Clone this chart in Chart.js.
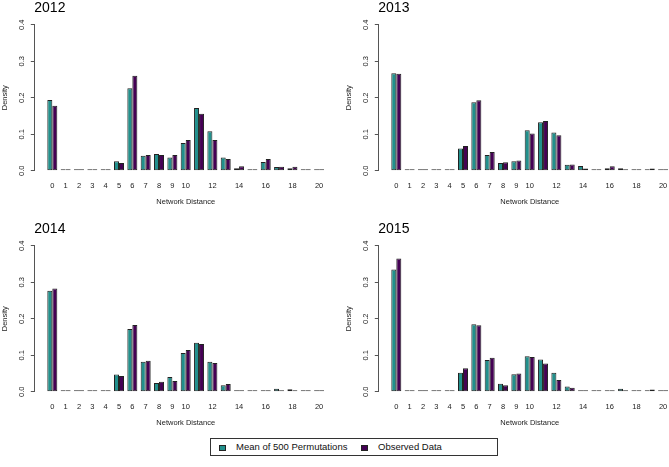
<!DOCTYPE html>
<html>
<head>
<meta charset="utf-8">
<script src="https://cdn.jsdelivr.net/npm/chart.js@4.4.1/dist/chart.umd.min.js"></script>
<style>
  html, body { margin: 0; padding: 0; background: #fff; overflow: hidden; }
  #wrap { position: relative; width: 669px; height: 467px; font-family: "Liberation Sans", Arial, sans-serif; }
  #wrap canvas { position: absolute; }
  .legend { position: absolute; left: 210px; top: 438px; width: 286px; height: 16px; border: 1px solid #333; font-size: 9.5px; color: #111; }
  .legend span { position: absolute; top: 2px; line-height: 12px; }
  .legend i { position: absolute; top: 6px; width: 5px; height: 4px; border: 1px solid #222; }
</style>
</head>
<body>
<div id="wrap">
  <canvas id="p2012" width="340" height="215" style="left:0;top:0"></canvas>
  <canvas id="p2013" width="340" height="215" style="left:344px;top:0"></canvas>
  <canvas id="p2014" width="340" height="215" style="left:0;top:221px"></canvas>
  <canvas id="p2015" width="340" height="215" style="left:344px;top:221px"></canvas>
  <div class="legend">
    <i style="left:8px;background:#21908C"></i><span style="left:25px">Mean of 500 Permutations</span>
    <i style="left:150px;background:#440154"></i><span style="left:167px">Observed Data</span>
  </div>
</div>
<script>
var distances = [0, 1, 2, 3, 4, 5, 6, 7, 8, 9, 10, 11, 12, 13, 14, 15, 16, 17, 18, 19, 20];
var yTicks = [0, 0.1, 0.2, 0.3, 0.4];

var perm2012 = [0.194, 0, 0, 0, 0, 0.026, 0.226, 0.041, 0.046, 0.036, 0.076, 0.172, 0.108, 0.036, 0.007, 0.001, 0.024, 0.010, 0.007, 0, 0.001];
var obs2012  = [0.178, 0, 0, 0, 0, 0.021, 0.260, 0.043, 0.043, 0.043, 0.084, 0.156, 0.084, 0.032, 0.012, 0, 0.032, 0.011, 0.011, 0, 0.003];

var perm2013 = [0.267, 0, 0, 0, 0, 0.061, 0.188, 0.043, 0.021, 0.026, 0.111, 0.133, 0.105, 0.016, 0.013, 0.003, 0.007, 0.007, 0.004, 0.004, 0.002];
var obs2013  = [0.266, 0, 0, 0, 0, 0.068, 0.193, 0.051, 0.023, 0.028, 0.102, 0.136, 0.097, 0.017, 0.006, 0.001, 0.012, 0.001, 0.001, 0.006, 0.001];

var perm2014 = [0.277, 0, 0, 0, 0, 0.047, 0.172, 0.082, 0.024, 0.040, 0.106, 0.134, 0.082, 0.018, 0.004, 0.001, 0.004, 0.008, 0.007, 0.002, 0.001];
var obs2014  = [0.283, 0, 0, 0, 0, 0.043, 0.183, 0.085, 0.027, 0.029, 0.114, 0.131, 0.079, 0.021, 0.004, 0.001, 0.001, 0.003, 0.004, 0.001, 0.001];

var perm2015 = [0.335, 0, 0, 0, 0.001, 0.052, 0.185, 0.087, 0.022, 0.048, 0.097, 0.088, 0.052, 0.014, 0.002, 0.004, 0.004, 0.008, 0.004, 0.004, 0.001];
var obs2015  = [0.365, 0, 0, 0, 0.003, 0.064, 0.182, 0.093, 0.018, 0.050, 0.095, 0.077, 0.032, 0.011, 0.001, 0.003, 0.004, 0.004, 0.001, 0.006, 0.001];

var TEAL = "#21908C";
var PURPLE = "#440154";
var FONT = "'Liberation Sans', Arial, sans-serif";

function xLabel(v) {
  if (v < 0 || v > 20 || v % 1 !== 0) return null;
  if (v > 10 && v % 2 === 1) return null;
  return String(v);
}

function makePanel(id, year, perm, obs) {
  var ctx = document.getElementById(id).getContext("2d");
  return new Chart(ctx, {
    type: "bar",
    data: {
      labels: distances,
      datasets: [
        { label: "Mean of 500 Permutations", data: perm, backgroundColor: TEAL },
        { label: "Observed Data", data: obs, backgroundColor: PURPLE },
      ],
    },
    options: {
      responsive: false,
      animation: false,
      layout: { padding: { left: 0, right: 2.9, top: 0, bottom: 8.2 } },
      datasets: {
        bar: {
          categoryPercentage: 0.75,
          barPercentage: 1,
          borderColor: "#222",
          borderWidth: 1,
          borderSkipped: false,
          minBarLength: 1.5,
        },
      },
      plugins: {
        legend: { display: false },
        tooltip: { enabled: false },
        title: {
          display: true,
          text: year,
          align: "start",
          fullSize: false,
          color: "#000",
          font: { size: 14, family: FONT, weight: "normal" },
          padding: { top: 0, bottom: 8 },
        },
      },
      scales: {
        x: {
          type: "linear",
          min: -1.35,
          max: 21.35,
          offset: false,
          grid: { display: false, drawTicks: false, offset: false },
          border: { display: false },
          ticks: {
            stepSize: 1,
            includeBounds: false,
            autoSkip: false,
            maxTicksLimit: 40,
            maxRotation: 0,
            minRotation: 0,
            padding: 10.8,
            color: "#222",
            font: { size: 7.5, family: FONT },
            callback: xLabel,
          },
          title: {
            display: true,
            text: "Network Distance",
            color: "#222",
            font: { size: 7.5, family: FONT },
            padding: { top: 7.3, bottom: 0 },
          },
          afterFit: function (scale) { scale.height = 36.1; },
        },
        y: {
          min: yTicks[0],
          max: yTicks[yTicks.length - 1],
          grid: { display: true, drawOnChartArea: false, drawTicks: true, tickLength: 3.5, color: "#555" },
          border: { display: true, color: "#555" },
          ticks: {
            stepSize: 0.1,
            minRotation: 90,
            maxRotation: 90,
            crossAlign: "center",
            padding: 3.3,
            color: "#222",
            font: { size: 7.5, family: FONT },
            callback: function (v) { return v.toFixed(1); },
          },
          title: {
            display: true,
            text: "Density",
            color: "#222",
            font: { size: 7.5, family: FONT },
            padding: { top: 0.5, bottom: 0 },
          },
          afterFit: function (scale) { scale.width = 34.3; },
        },
      },
    },
  });
}

makePanel("p2012", "2012", perm2012, obs2012);
makePanel("p2013", "2013", perm2013, obs2013);
makePanel("p2014", "2014", perm2014, obs2014);
makePanel("p2015", "2015", perm2015, obs2015);
</script>
</body>
</html>
